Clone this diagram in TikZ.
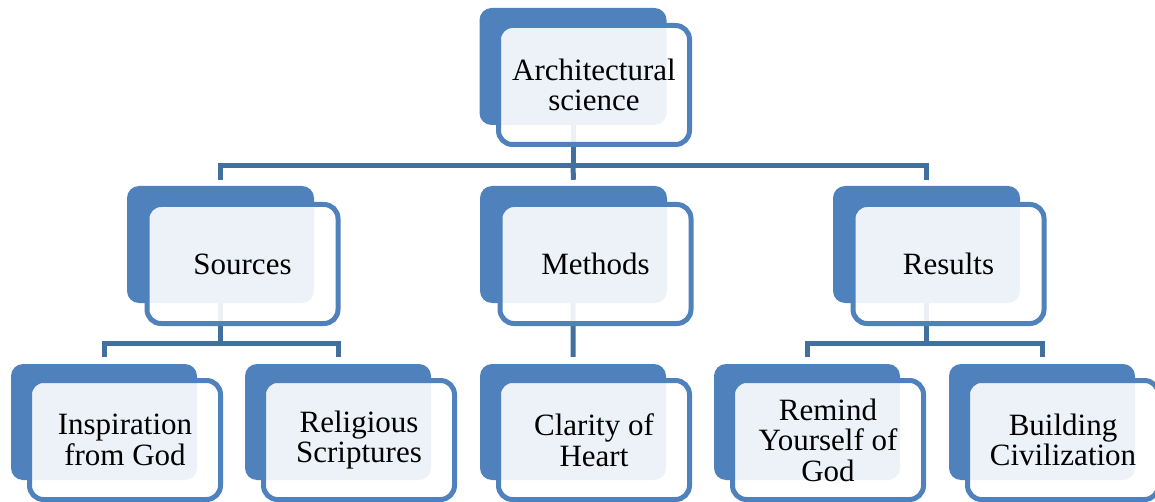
\documentclass[tikz,border=0pt]{standalone}
\usepackage{fontspec}
\setmainfont{Liberation Serif}
\usetikzlibrary{calc,backgrounds}
\definecolor{accent}{HTML}{4F81BD}
\definecolor{connc}{HTML}{41709F}
\tikzset{
  darkbox/.style={rectangle, rounded corners=12pt, fill=accent, draw=none,
    minimum width=187pt, minimum height=117pt, inner sep=0pt},
  frontbox/.style={rectangle, rounded corners=14pt, draw=accent, line width=5pt,
    fill=white, fill opacity=0.9, text opacity=1, draw opacity=1,
    minimum width=191pt, minimum height=119pt, inner sep=0pt, align=center,
    font=\fontsize{31}{30.5}\selectfont},
  conn/.style={draw=connc, line width=5pt},
}
\begin{document}
\begin{tikzpicture}[x=1pt,y=-1pt]
\useasboundingbox (0,0) rectangle (1155,502);
% top
\node[darkbox] (archB) at (573,66.5) {};
\node[frontbox] (arch) at (594,85) {Architectural\\science};
% middle row
\node[darkbox] (srcB) at (220.5,244.5) {};
\node[frontbox] (src) at (242.5,264) {Sources};
\node[darkbox] (metB) at (573.5,244.5) {};
\node[frontbox] (met) at (595.5,264) {Methods};
\node[darkbox] (resB) at (926.5,244.5) {};
\node[frontbox] (res) at (948.5,264) {Results};
% bottom row
\node[darkbox, minimum height=116pt, minimum width=186pt] (insB) at (104,422) {};
\node[frontbox] (ins) at (125,440) {Inspiration\\from God};
\node[darkbox, minimum height=116pt, minimum width=186pt] (relB) at (338,422) {};
\node[frontbox] (rel) at (359,440) {Religious\\Scriptures};
\node[darkbox, minimum height=116pt, minimum width=186pt] (claB) at (573,422) {};
\node[frontbox] (cla) at (594,440) {Clarity of\\Heart};
\node[darkbox, minimum height=116pt, minimum width=186pt] (remB) at (807,422) {};
\node[frontbox] (rem) at (828,440) {Remind\\Yourself of\\God};
\node[darkbox, minimum height=116pt, minimum width=186pt] (bldB) at (1042,422) {};
\node[frontbox] (bld) at (1063,440) {Building\\Civilization};
% connectors
\begin{scope}[on background layer]
\coordinate (bus1) at (573,166);
\draw[conn] (archB.center) -- (bus1);
\draw[conn] ($(srcB.north)+(0,-6)$) -- (srcB.north |- bus1) -- (resB.north |- bus1) -- ($(resB.north)+(0,-6)$);
\draw[conn] (bus1) -- ($(metB.north)+(0,-6)$);
\coordinate (bus2) at (220.5,343);
\draw[conn] (srcB.center) -- (bus2);
\draw[conn] ($(insB.north)+(0,-7)$) -- (insB.north |- bus2) -- (relB.north |- bus2) -- ($(relB.north)+(0,-7)$);
\draw[conn] (metB.center) -- ($(claB.north)+(0,-7)$);
\coordinate (bus3) at (926.5,343);
\draw[conn] (resB.center) -- (bus3);
\draw[conn] ($(remB.north)+(0,-7)$) -- (remB.north |- bus3) -- (bldB.north |- bus3) -- ($(bldB.north)+(0,-7)$);
\end{scope}
\end{tikzpicture}
\end{document}
